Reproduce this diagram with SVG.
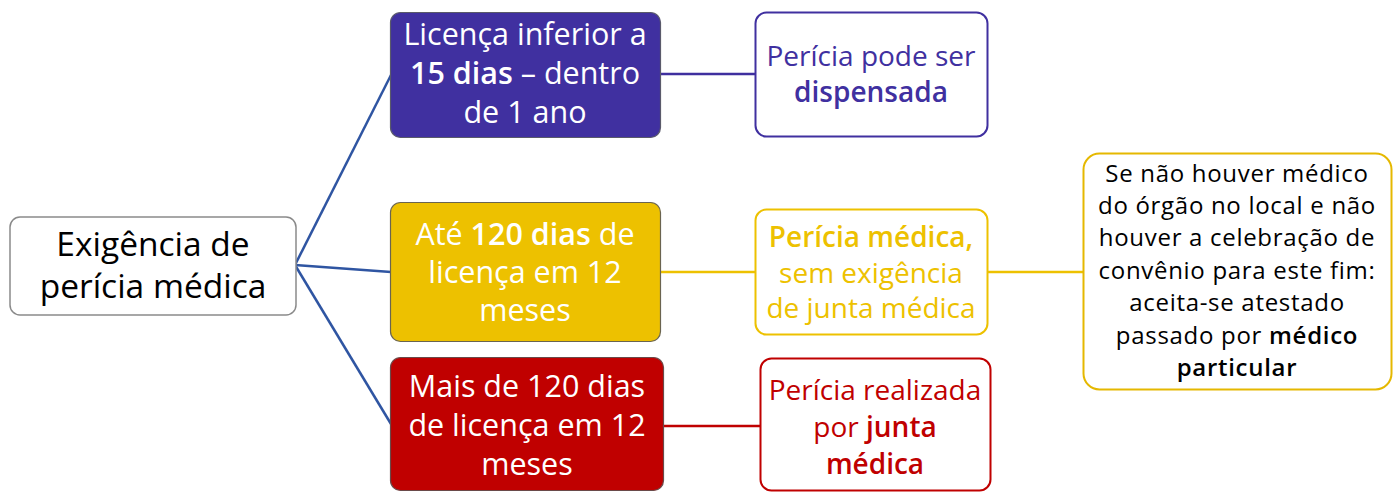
<svg xmlns="http://www.w3.org/2000/svg" width="1397" height="492" viewBox="0 0 1397 492">
<style>
text{font-family:"Open Sans","Noto Sans","Liberation Sans",sans-serif;text-anchor:middle}
.b{font-weight:600}
.t28{font-size:30.5px}
.t26{font-size:28px}
.t24{font-size:24px;letter-spacing:0.7px}
.conn line{stroke-width:2.5;fill:none}
</style>
<rect width="1397" height="492" fill="#ffffff"/>
<g class="conn">
<line x1="295" y1="265" x2="391" y2="75" stroke="#2F55A2"/>
<line x1="295" y1="265" x2="391" y2="272" stroke="#2F55A2"/>
<line x1="295" y1="265" x2="391" y2="424" stroke="#2F55A2"/>
<line x1="660" y1="74" x2="756" y2="74" stroke="#3F2F9F"/>
<line x1="660" y1="272" x2="756" y2="272" stroke="#EDC100"/>
<line x1="987" y1="272" x2="1084" y2="272" stroke="#EDC100"/>
<line x1="663" y1="426" x2="761" y2="426" stroke="#C00000"/>
</g>
<g id="root">
<rect x="10" y="217" width="286" height="98" rx="10" fill="#ffffff" stroke="#8a8a8a" stroke-width="1.5"/>
<text x="153" y="256" font-size="33.5" fill="#000">Exigência de</text>
<text x="153" y="298" font-size="33.5" fill="#000">perícia médica</text>
</g>
<g id="n-15dias">
<rect x="390.5" y="12.5" width="270" height="125" rx="10" fill="#4030A0" stroke="#5a5a6a" stroke-width="1.2"/>
<text class="t28" x="525" y="45" fill="#fff">Licença inferior a</text>
<text class="t28" x="525" y="84" fill="#fff"><tspan class="b">15 dias</tspan> – dentro</text>
<text class="t28" x="525" y="123" fill="#fff">de 1 ano</text>
</g>
<g id="n-dispensada">
<rect x="755.5" y="12.5" width="232" height="124" rx="11" fill="#fff" stroke="#4030A0" stroke-width="2"/>
<text class="t26" x="871" y="66" fill="#4030A0">Perícia pode ser</text>
<text class="t26 b" x="871" y="102" fill="#4030A0">dispensada</text>
</g>
<g id="n-120dias">
<rect x="390.5" y="202.5" width="270" height="139" rx="10" fill="#EDC100" stroke="#6a6450" stroke-width="1.2"/>
<text class="t28" x="525" y="245" fill="#fff">Até <tspan class="b">120 dias</tspan> de</text>
<text class="t28" x="525" y="283" fill="#fff">licença em 12</text>
<text class="t28" x="525" y="321" fill="#fff">meses</text>
</g>
<g id="n-pericia-medica">
<rect x="755.5" y="209.5" width="232" height="125" rx="11" fill="#fff" stroke="#EDC100" stroke-width="2"/>
<text class="t26 b" x="871" y="247" fill="#EDC100">Perícia médica,</text>
<text class="t26" x="871" y="283" fill="#EDC100">sem exigência</text>
<text class="t26" x="871" y="318" fill="#EDC100">de junta médica</text>
</g>
<g id="n-mais120">
<rect x="390.5" y="357.5" width="273" height="133" rx="10" fill="#C00000" stroke="#6a4a4a" stroke-width="1.2"/>
<text class="t28" x="527" y="397" fill="#fff">Mais de 120 dias</text>
<text class="t28" x="527" y="436" fill="#fff">de licença em 12</text>
<text class="t28" x="527" y="475" fill="#fff">meses</text>
</g>
<g id="n-junta">
<rect x="760.5" y="358.5" width="230" height="132" rx="11" fill="#fff" stroke="#C00000" stroke-width="2"/>
<text class="t26" x="875" y="400" fill="#C00000">Perícia realizada</text>
<text class="t26" x="875" y="437" fill="#C00000">por <tspan class="b">junta</tspan></text>
<text class="t26 b" x="875" y="474" fill="#C00000">médica</text>
</g>
<g id="n-particular">
<rect x="1083.5" y="153.5" width="308" height="236" rx="16" fill="#fff" stroke="#E5B800" stroke-width="2"/>
<text class="t24" x="1237" y="182" fill="#000">Se não houver médico</text>
<text class="t24" x="1237" y="214" fill="#000">do órgão no local e não</text>
<text class="t24" x="1237" y="246" fill="#000">houver a celebração de</text>
<text class="t24" x="1237" y="279" fill="#000">convênio para este fim:</text>
<text class="t24" x="1237" y="311" fill="#000">aceita-se atestado</text>
<text class="t24" x="1237" y="344" fill="#000">passado por <tspan class="b">médico</tspan></text>
<text class="t24 b" x="1237" y="376" fill="#000">particular</text>
</g>
</svg>
